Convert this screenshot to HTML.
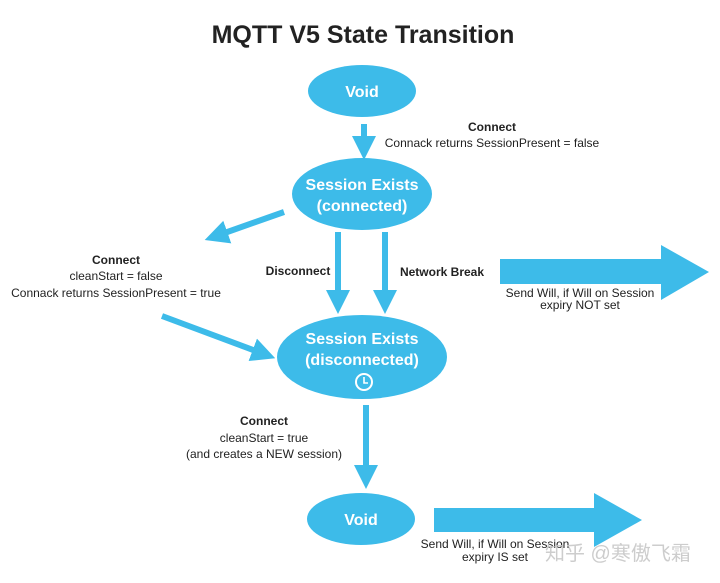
<!DOCTYPE html>
<html><head><meta charset="utf-8"><style>
html,body{margin:0;padding:0;background:#fff;}
svg{display:block;}
text{font-family:"Liberation Sans","Noto Sans CJK SC",sans-serif;}
</style></head><body>
<svg width="720" height="583" viewBox="0 0 720 583" xmlns="http://www.w3.org/2000/svg">
<defs>
<marker id="ah" markerWidth="4" markerHeight="4" refX="2" refY="2" orient="auto" markerUnits="strokeWidth">
<path d="M0,0 L4,2 L0,4 z" fill="#3dbbe9"/>
</marker>
</defs>
<text x="363" y="43" text-anchor="middle" font-size="25" font-weight="bold" fill="#222">MQTT V5 State Transition</text>

<g fill="#3dbbe9">
<ellipse cx="362" cy="91" rx="54" ry="26"/>
<ellipse cx="362" cy="194" rx="70" ry="36"/>
<ellipse cx="362" cy="357" rx="85" ry="42"/>
<ellipse cx="361" cy="519" rx="54" ry="26"/>
<path d="M500,259 L661,259 L661,245 L709,272 L661,300 L661,284 L500,284 z"/>
<path d="M434,508 L594,508 L594,493 L642,520 L594,547 L594,532 L434,532 z"/>
</g>

<g stroke="#3dbbe9" stroke-width="6" fill="none" marker-end="url(#ah)">
<line x1="364" y1="124" x2="364" y2="148"/>
<line x1="284" y1="212" x2="216" y2="236"/>
<line x1="338" y1="232" x2="338" y2="302"/>
<line x1="385" y1="232" x2="385" y2="302"/>
<line x1="162" y1="316" x2="264" y2="354"/>
<line x1="366" y1="405" x2="366" y2="477"/>
</g>

<g fill="#fff" font-weight="bold" text-anchor="middle" font-size="16">
<text x="362" y="97">Void</text>
<text x="362" y="190">Session Exists</text>
<text x="362" y="211">(connected)</text>
<text x="362" y="344">Session Exists</text>
<text x="362" y="365">(disconnected)</text>
<text x="361" y="525">Void</text>
</g>
<circle cx="364" cy="382" r="8" fill="none" stroke="#fff" stroke-width="2"/>
<path d="M364,377 L364,383 L368,383" fill="none" stroke="#fff" stroke-width="1.6"/>

<g fill="#222" font-size="12" text-anchor="middle">
<text x="492" y="131" font-weight="bold">Connect</text>
<text x="492" y="147">Connack returns SessionPresent = false</text>
<text x="116" y="264" font-weight="bold">Connect</text>
<text x="116" y="280">cleanStart = false</text>
<text x="116" y="297">Connack returns SessionPresent = true</text>
<text x="298" y="275" font-weight="bold">Disconnect</text>
<text x="442" y="276" font-weight="bold">Network Break</text>
<text x="580" y="297">Send Will, if Will on Session</text>
<text x="580" y="309">expiry NOT set</text>
<text x="264" y="425" font-weight="bold">Connect</text>
<text x="264" y="442">cleanStart = true</text>
<text x="264" y="458">(and creates a NEW session)</text>
<text x="495" y="548">Send Will, if Will on Session</text>
<text x="495" y="561">expiry IS set</text>
</g>
<text x="545" y="560" font-size="20" fill="#c8c8c8" opacity="0.9">知乎 @寒傲飞霜</text>
</svg>
</body></html>
